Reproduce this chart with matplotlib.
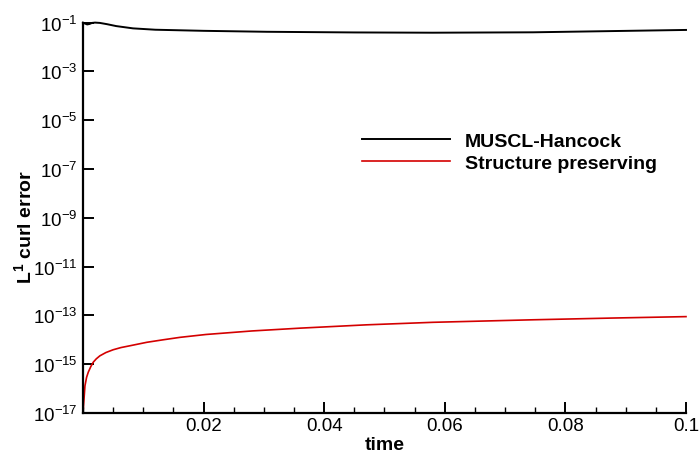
import numpy as np
import matplotlib.pyplot as plt
from matplotlib.ticker import FixedLocator, MultipleLocator, NullLocator

plt.rcParams['font.family'] = ['Liberation Sans', 'DejaVu Sans']
plt.rcParams['mathtext.fontset'] = 'custom'
plt.rcParams['mathtext.rm'] = 'Liberation Sans'
plt.rcParams['mathtext.it'] = 'Liberation Sans:italic'
plt.rcParams['mathtext.bf'] = 'Liberation Sans:bold'

# MUSCL-Hancock curl error
t_muscl = [0.0, 0.0003, 0.0007, 0.0011, 0.0015, 0.002, 0.0028, 0.004, 0.0055,
           0.0083, 0.012, 0.02, 0.0305, 0.045, 0.058, 0.0746, 0.088, 0.1]
err_muscl = [0.1, 0.092, 0.084, 0.088, 0.097, 0.1, 0.097, 0.086, 0.072,
             0.058, 0.051, 0.046, 0.042, 0.0395, 0.0385, 0.040, 0.045, 0.05]

# structure preserving curl error
t_sp = [0.0, 0.00008, 0.00017, 0.00033, 0.0006, 0.00088, 0.0013, 0.0017, 0.0022,
        0.0028, 0.0038, 0.005, 0.0063, 0.0078, 0.0106, 0.0133, 0.0161, 0.0204,
        0.028, 0.036, 0.047, 0.058, 0.0746, 0.088, 0.1]
err_sp = [1e-17, 1.8e-17, 3.7e-17, 1.3e-16, 2.9e-16, 4.7e-16, 8.0e-16, 1.2e-15,
          1.65e-15, 2.2e-15, 3.0e-15, 3.9e-15, 4.8e-15, 5.7e-15, 7.9e-15,
          1.0e-14, 1.26e-14, 1.65e-14, 2.3e-14, 3.0e-14, 4.1e-14, 5.2e-14,
          6.6e-14, 7.8e-14, 8.9e-14]

xtick_vals = [0.02, 0.04, 0.06, 0.08, 0.1]
xtick_labels = ['0.02', '0.04', '0.06', '0.08', '0.1']
ytick_exps = [-17, -15, -13, -11, -9, -7, -5, -3, -1]

fig = plt.figure(figsize=(6.99, 4.52), dpi=100)
ax = fig.add_axes([0.1187, 0.0841, 0.8627, 0.8637])

ax.plot(t_muscl, err_muscl, color='black', lw=1.4, label='MUSCL-Hancock', clip_on=False)
ax.plot(t_sp, err_sp, color='#d40000', lw=1.2, label='Structure preserving', clip_on=False)

ax.set_yscale('log')
ax.set_xlim(0, 0.1)
ax.set_ylim(1e-17, 1e-1)

ax.yaxis.set_major_locator(FixedLocator([10.0 ** e for e in ytick_exps]))
ax.yaxis.set_minor_locator(NullLocator())
ax.set_yticklabels([r'$10^{%d}$' % e for e in ytick_exps])
ax.set_xticks(xtick_vals)
ax.set_xticklabels(xtick_labels)
ax.xaxis.set_minor_locator(MultipleLocator(0.005))

for s in ['top', 'right']:
    ax.spines[s].set_visible(False)
for s in ['left', 'bottom']:
    ax.spines[s].set_linewidth(1.6)
ax.tick_params(which='major', direction='in', length=8, width=1.4, labelsize=13.5, pad=3)
ax.tick_params(which='minor', direction='in', length=4, width=1.0)
ax.tick_params(axis='y', pad=4)

ax.set_xlabel('time', fontsize=14, fontweight='bold', labelpad=1)
ax.set_ylabel(r'$\mathbf{L^1}$ curl error', fontsize=14, fontweight='bold')
ax.yaxis.set_label_coords(-0.08, 0.478)

leg = ax.legend(loc='upper left', bbox_to_anchor=(0.463, 0.718), frameon=False,
                handlelength=4.5, handletextpad=0.8, labelspacing=0.2,
                borderpad=0, borderaxespad=0,
                prop={'size': 14, 'weight': 'bold'})

fig.savefig('out.png', dpi=100)
